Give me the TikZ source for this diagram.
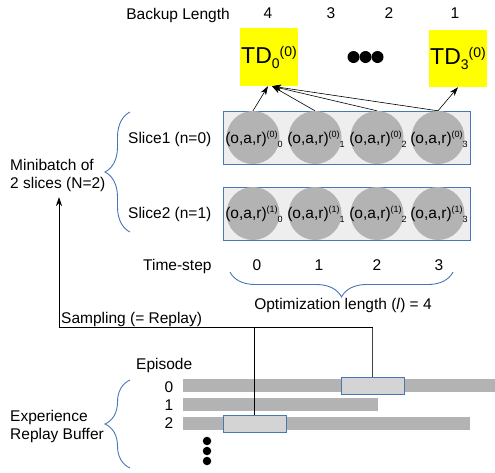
\documentclass[tikz,border=0pt]{standalone}
\usepackage{fontspec}
\setmainfont{Liberation Sans}
\usetikzlibrary{decorations.pathreplacing,arrows.meta}
\definecolor{bblue}{RGB}{74,118,184}
\definecolor{cgray}{RGB}{179,179,179}
\definecolor{boxgray}{RGB}{238,238,238}
\definecolor{hgray}{RGB}{212,212,212}
\definecolor{tdyellow}{RGB}{255,255,0}
\newcommand{\oarlab}[2]{(o,a,r)\raisebox{6pt}{\fontsize{9}{9}\selectfont(#1)}\raisebox{-4pt}{\fontsize{9}{9}\selectfont #2}}
\newcommand{\tdlab}[1]{TD\raisebox{-5pt}{\fontsize{14}{14}\selectfont #1}\raisebox{7pt}{\fontsize{14}{14}\selectfont(0)}}
\begin{document}
\begin{tikzpicture}[x=1pt,y=-1pt,
  every node/.style={font=\fontsize{15.5}{18}\selectfont, inner sep=0pt},
  txt/.style={anchor=base},
  tdbox/.style={draw=none, fill=tdyellow, minimum width=58pt, minimum height=58pt, font=\fontsize{23}{23}\selectfont},
  slicebox/.style={draw=bblue, fill=boxgray, line width=0.9pt, minimum width=247pt, minimum height=53pt},
  stepcirc/.style={circle, fill=cgray, minimum size=53pt},
  bar/.style={fill=cgray},
  hbox/.style={draw=bblue, fill=hgray, line width=0.9pt},
  bluebrace/.style={draw=bblue, line width=0.9pt, decorate, decoration={brace, amplitude=25pt}},
  arr/.style={-{Stealth[length=9pt,width=6pt]}, line width=0.6pt},
  dot/.style={circle, fill=black}
]
\useasboundingbox (0,0) rectangle (495,472);

% Top labels
\node[txt] (bl) at (178,19) {Backup Length};
\node[txt] (b4) at (268,18) {4};
\node[txt] (b3) at (331,18) {3};
\node[txt] (b2) at (389,18) {2};
\node[txt] (b1) at (455,18) {1};

% TD boxes
\node[tdbox] (td0) at (269,57) {\tdlab{0}};
\node[tdbox, minimum height=57pt] (td3) at (458,58.5) {\tdlab{3}};
\node[dot, minimum size=12pt] (h1) at (353.5,57) {};
\node[dot, minimum size=12pt] (h2) at (365.5,57) {};
\node[dot, minimum size=12pt] (h3) at (377.5,57) {};

% Slice boxes
\node[slicebox] (s1) at (346.5,137.5) {};
\node[slicebox] (s2) at (346.5,213.5) {};
\foreach \i/\x in {0/253,1/315,2/377,3/438} {
  \node[stepcirc] (c0\i) at (\x,137.5) {};
  \node[stepcirc] (c1\i) at (\x,213.5) {};
  \node[txt] (l0\i) at (\x+1,143) {\oarlab{0}{\i}};
  \node[txt] (l1\i) at (\x+1,218) {\oarlab{1}{\i}};
}
\node[anchor=base west] (sl1) at (128,143) {Slice1 (n=0)};
\node[anchor=base west] (sl2) at (128,218) {Slice2 (n=1)};

% Arrows to TD
\draw[arr] (c00.north) -- ([xshift=-1pt]td0.south);
\draw[arr] (c01.north) -- ([xshift=3pt]td0.south);
\draw[arr] (c02.north) -- ([xshift=3pt]td0.south);
\draw[arr] (c03.north) -- ([xshift=3pt]td0.south);
\draw[arr] (c03.north) -- (td3.south);

% Minibatch brace and label
\coordinate (mbt) at (130,112);
\coordinate (mbb) at (130,232);
\draw[bluebrace] (mbb) -- (mbt);
\node[anchor=north west, align=left] (mb) at (10,159.5) {Minibatch of\\2 slices (N=2)};

% Time-step
\node[anchor=base west] (ts) at (143,270) {Time-step};
\node[txt] (t0) at (257,270) {0};
\node[txt] (t1) at (319,270) {1};
\node[txt] (t2) at (377,270) {2};
\node[txt] (t3) at (439,270) {3};
\coordinate (obr) at (453,272);
\coordinate (obl) at (230,272);
\draw[bluebrace] (obr) -- (obl);
\node[txt] (ol) at (343,309.5) {Optimization length (\textit{l}) = 4};

% Episodes
\node[anchor=base west] (ep) at (136,369) {Episode};
\node[txt] (e0) at (169,392) {0};
\node[txt] (e1) at (169,410) {1};
\node[txt] (e2) at (169,428) {2};
\fill[cgray] (183,379) rectangle (495,392);
\fill[cgray] (183,398) rectangle (378,411);
\fill[cgray] (183,417) rectangle (470,430);
\node[hbox, minimum width=63pt, minimum height=17pt] (hb0) at (372.5,385.5) {};
\node[hbox, minimum width=63pt, minimum height=17pt] (hb2) at (254.5,423.5) {};
\node[dot, minimum size=8.5pt] (v1) at (207,441) {};
\node[dot, minimum size=8.5pt] (v2) at (207,451) {};
\node[dot, minimum size=8.5pt] (v3) at (207,461) {};

\coordinate (ebb) at (130,468);
\coordinate (ebt) at (130,380);
\draw[bluebrace] (ebb) -- (ebt);
\node[anchor=north west, align=left] (erb) at (10,410.5) {Experience\\Replay Buffer};

% Sampling lines
\coordinate (corner) at (59,327);
\coordinate (mbarrow) at (59,197);
\draw[line width=0.8pt] (hb2.north) -- (hb2.north |- corner);
\draw[line width=0.8pt, draw=black!75] (hb0.north) -- (hb0.north |- corner);
\draw[arr, line width=0.8pt] (hb0.north |- corner) -- (corner) -- (mbarrow);
\node[anchor=base west] (samp) at (61,323) {Sampling (= Replay)};
\end{tikzpicture}
\end{document}
